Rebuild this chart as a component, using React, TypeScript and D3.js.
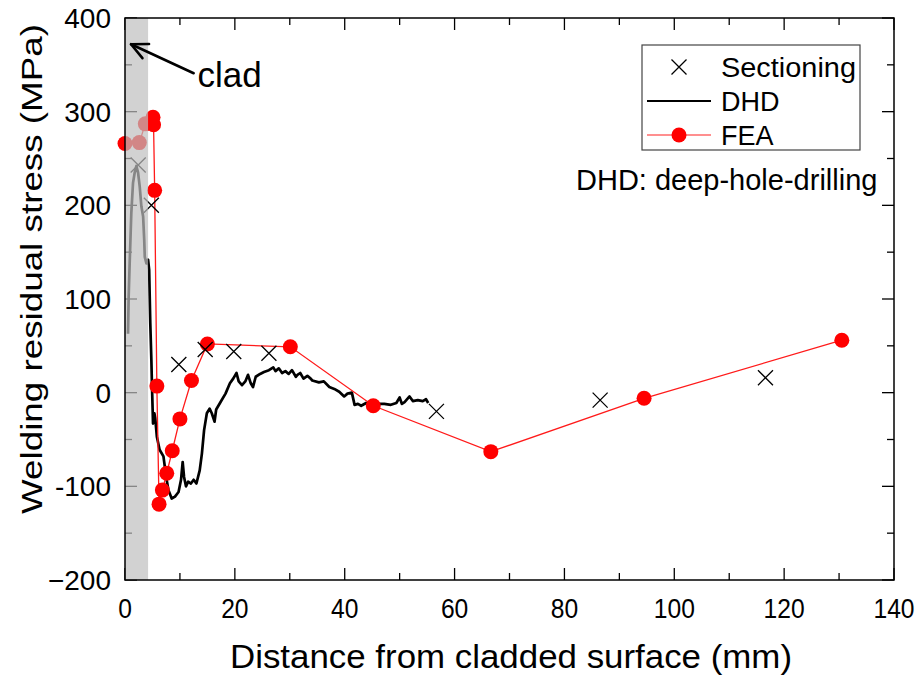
import React from 'react';
import * as d3 from 'd3';

// Sectioning measurements (mm, MPa)
const sectioningX = [2.4, 4.8, 9.8, 14.6, 19.8, 26.2, 56.7, 86.5, 116.6];
const sectioningY = [243, 200, 30, 46, 44, 42, -20, -8, 16];

// FEA results (mm, MPa)
const feaX = [0, 2.6, 3.7, 5.1, 5.2, 5.4, 5.8, 6.2, 6.8, 7.6, 8.6, 10.0, 12.1, 15.0, 30.1, 45.2, 66.6, 94.5, 130.5];
const feaY = [266, 267, 287, 294, 286, 216, 7, -119, -104, -86, -62, -28, 13, 52, 49, -14, -63, -6, 56];

// Deep-hole-drilling profile (mm, MPa)
const dhdX = [
  0.55, 0.67, 0.85, 1.15, 1.46, 1.77, 2.07, 2.38, 2.68, 2.98, 3.3, 3.5, 3.6, 3.9, 4.2, 4.4, 4.5, 4.6, 4.8, 4.9,
  5.1, 5.35, 5.5, 5.8, 6.3, 7.0, 7.5, 7.9, 8.5, 9.1, 9.75, 10.2, 10.5, 10.75, 11.1, 11.5, 12.0, 12.5, 13.0, 13.6,
  14.0, 14.4, 14.9, 15.4, 15.8, 16.3, 16.6, 17.4, 18.3, 19.1, 19.7, 20.3, 20.7, 21.3, 21.9, 22.4, 22.9, 23.3, 23.8,
  24.6, 25.3, 26.2, 27.0, 27.4, 28.0, 28.6, 29.2, 29.8, 30.4, 31.1, 31.4, 31.9, 32.5, 33.2, 33.8, 34.1, 35.3, 36.2,
  37.2, 38.1, 39.0, 39.9, 40.5, 41.3, 41.8, 42.4, 43.0, 43.9, 45.0, 46.0, 47.2, 48.4, 49.4, 50.0, 50.4, 50.9, 51.8,
  52.4, 53.3, 54.2, 54.8, 55.2,
];
const dhdY = [
  63, 103, 138, 192, 224, 235, 242, 235, 220, 199, 188, 163, 145, 138, 142, 131, 103, 75, 35, 10,
  -33, -22, -27, -47, -61, -68, -90, -104, -113, -111, -106, -93, -74, -90, -100, -95, -97, -93, -97, -83,
  -65, -40, -22, -17, -22, -31, -18, -10, -1, 10, 15, 21, 12, 8, 12, 19, 10, 6, 17,
  20, 22, 24, 27, 23, 26, 21, 23, 20, 24, 17, 19, 21, 15, 18, 15, 13, 11, 12,
  6, 4, 1, -4, -1, 0, -13, -12, -14, -11, -14, -12, -12, -13, -11, -5, -12, -10, -4,
  -9, -8, -9, -7, -11,
];

// Axis ticks
const xTickValues = [0, 20, 40, 60, 80, 100, 120, 140];
const xMinorValues = [10, 30, 50, 70, 90, 110, 130];
const yTickValues = [-200, -100, 0, 100, 200, 300, 400];
const yTickLabels = ['\u2212200', '-100', '0', '100', '200', '300', '400'];
const yMinorValues = [-150, -50, 50, 150, 250, 350];

// Clad layer extent (mm)
const cladWidth = 4.2;

const W = 919;
const H = 675;
const L = 125;
const R = 894;
const T = 18;
const B = 580;

const sans = "'Liberation Sans', Arial, sans-serif";

export default function App() {
  const x = d3.scaleLinear().domain([0, 140]).range([L, R]);
  const y = d3.scaleLinear().domain([-200, 400]).range([B, T]);

  const dhd = dhdX.map((v, i) => [v, dhdY[i]] as [number, number]);
  const fea = feaX.map((v, i) => [v, feaY[i]] as [number, number]);
  const sec = sectioningX.map((v, i) => [v, sectioningY[i]] as [number, number]);

  const line = d3
    .line<[number, number]>()
    .x((d) => x(d[0]))
    .y((d) => y(d[1]));

  const cross = (cx: number, cy: number, s: number, key: string, stroke = '#000') => (
    <path
      key={key}
      d={`M${cx - s},${cy - s}L${cx + s},${cy + s}M${cx - s},${cy + s}L${cx + s},${cy - s}`}
      stroke={stroke}
      strokeWidth={1.3}
      fill="none"
    />
  );

  // Annotation arrow pointing at the clad layer
  const tip: [number, number] = [x(1.1), y(372)];
  const tail: [number, number] = [x(12.5), y(341)];
  const ang = Math.atan2(tail[1] - tip[1], tail[0] - tip[0]);
  const hl = 18;
  const ha = 0.45;
  const b1 = [tip[0] + hl * Math.cos(ang - ha), tip[1] + hl * Math.sin(ang - ha)];
  const b2 = [tip[0] + hl * Math.cos(ang + ha), tip[1] + hl * Math.sin(ang + ha)];

  return (
    <svg
      width={W}
      height={H}
      style={{ position: 'absolute', left: 0, top: 0, background: '#fff' }}
    >
      <rect x={0} y={0} width={W} height={H} fill="#fff" />

      {/* ticks (inward) */}
      <g stroke="#000" strokeWidth={1.3}>
        {xTickValues.map((v) => (
          <g key={`xt${v}`}>
            <line x1={x(v)} x2={x(v)} y1={B} y2={B - 12} />
            <line x1={x(v)} x2={x(v)} y1={T} y2={T + 12} />
          </g>
        ))}
        {xMinorValues.map((v) => (
          <g key={`xm${v}`}>
            <line x1={x(v)} x2={x(v)} y1={B} y2={B - 7} />
            <line x1={x(v)} x2={x(v)} y1={T} y2={T + 7} />
          </g>
        ))}
        {yTickValues.map((v) => (
          <g key={`yt${v}`}>
            <line x1={L} x2={L + 12} y1={y(v)} y2={y(v)} />
            <line x1={R} x2={R - 12} y1={y(v)} y2={y(v)} />
          </g>
        ))}
        {yMinorValues.map((v) => (
          <g key={`ym${v}`}>
            <line x1={L} x2={L + 7} y1={y(v)} y2={y(v)} />
            <line x1={R} x2={R - 7} y1={y(v)} y2={y(v)} />
          </g>
        ))}
      </g>

      {/* DHD */}
      <path d={line(dhd) ?? ''} fill="none" stroke="#000" strokeWidth={2.7} strokeLinejoin="round" />

      {/* FEA */}
      <path d={line(fea) ?? ''} fill="none" stroke="#ff1a1a" strokeWidth={1.3} />
      {fea.map((d, i) => (
        <circle key={`f${i}`} cx={x(d[0])} cy={y(d[1])} r={7.5} fill="#ff0000" />
      ))}

      {/* Sectioning */}
      {sec.map((d, i) => cross(x(d[0]), y(d[1]), 7.5, `s${i}`))}

      {/* clad layer band */}
      <rect x={x(0)} y={T} width={x(cladWidth) - x(0)} height={B - T} fill="#bfbfbf" fillOpacity={0.7} />

      {/* frame */}
      <rect x={L} y={T} width={R - L} height={B - T} fill="none" stroke="#000" strokeWidth={1.5} />

      {/* annotation */}
      <g stroke="#000" strokeWidth={2.6} fill="none" strokeLinecap="round" strokeLinejoin="round">
        <line x1={tail[0]} y1={tail[1]} x2={tip[0]} y2={tip[1]} />
        <polyline points={`${b1[0]},${b1[1]} ${tip[0]},${tip[1]} ${b2[0]},${b2[1]}`} />
      </g>
      <text x={x(13.2)} y={y(326)} fontFamily={sans} fontSize={35} fill="#000">
        clad
      </text>

      {/* y tick labels */}
      {yTickValues.map((v, i) => (
        <text
          key={`yl${v}`}
          x={111}
          y={y(v)}
          dy="0.36em"
          textAnchor="end"
          fontFamily={sans}
          fontSize={28}
          fill="#000"
        >
          {yTickLabels[i]}
        </text>
      ))}

      {/* x tick labels */}
      {xTickValues.map((v) => (
        <text
          key={`xl${v}`}
          transform={`translate(${x(v)},${608}) scale(0.88,1)`}
          dy="0.36em"
          textAnchor="middle"
          fontFamily={sans}
          fontSize={28}
          fill="#000"
        >
          {v}
        </text>
      ))}

      {/* axis titles */}
      <text
        x={511}
        y={668}
        textAnchor="middle"
        fontFamily={sans}
        fontSize={34}
        textLength={562}
        lengthAdjust="spacingAndGlyphs"
        fill="#000"
      >
        Distance from cladded surface (mm)
      </text>
      <text
        transform={`translate(42,269) rotate(-90)`}
        textAnchor="middle"
        fontFamily={sans}
        fontSize={29}
        textLength={490}
        lengthAdjust="spacingAndGlyphs"
        fill="#000"
      >
        Welding residual stress  (MPa)
      </text>

      {/* legend */}
      <rect x={642} y={45} width={218} height={105} fill="#fff" stroke="#444" strokeWidth={1.2} />
      {cross(679, 67, 7.5, 'lg-s')}
      <line x1={647} x2={711} y1={101} y2={101} stroke="#000" strokeWidth={2} />
      <line x1={647} x2={711} y1={135} y2={135} stroke="#ff6a6a" strokeWidth={1.5} />
      <circle cx={679} cy={135} r={7.5} fill="#ff0000" />
      <text x={721} y={77} fontFamily={sans} fontSize={27} textLength={135} lengthAdjust="spacingAndGlyphs" fill="#000">
        Sectioning
      </text>
      <text x={721} y={111} fontFamily={sans} fontSize={27} fill="#000">
        DHD
      </text>
      <text x={721} y={145} fontFamily={sans} fontSize={27} fill="#000">
        FEA
      </text>
      <text x={576} y={190} fontFamily={sans} fontSize={29} fill="#000">
        DHD: deep-hole-drilling
      </text>
    </svg>
  );
}
